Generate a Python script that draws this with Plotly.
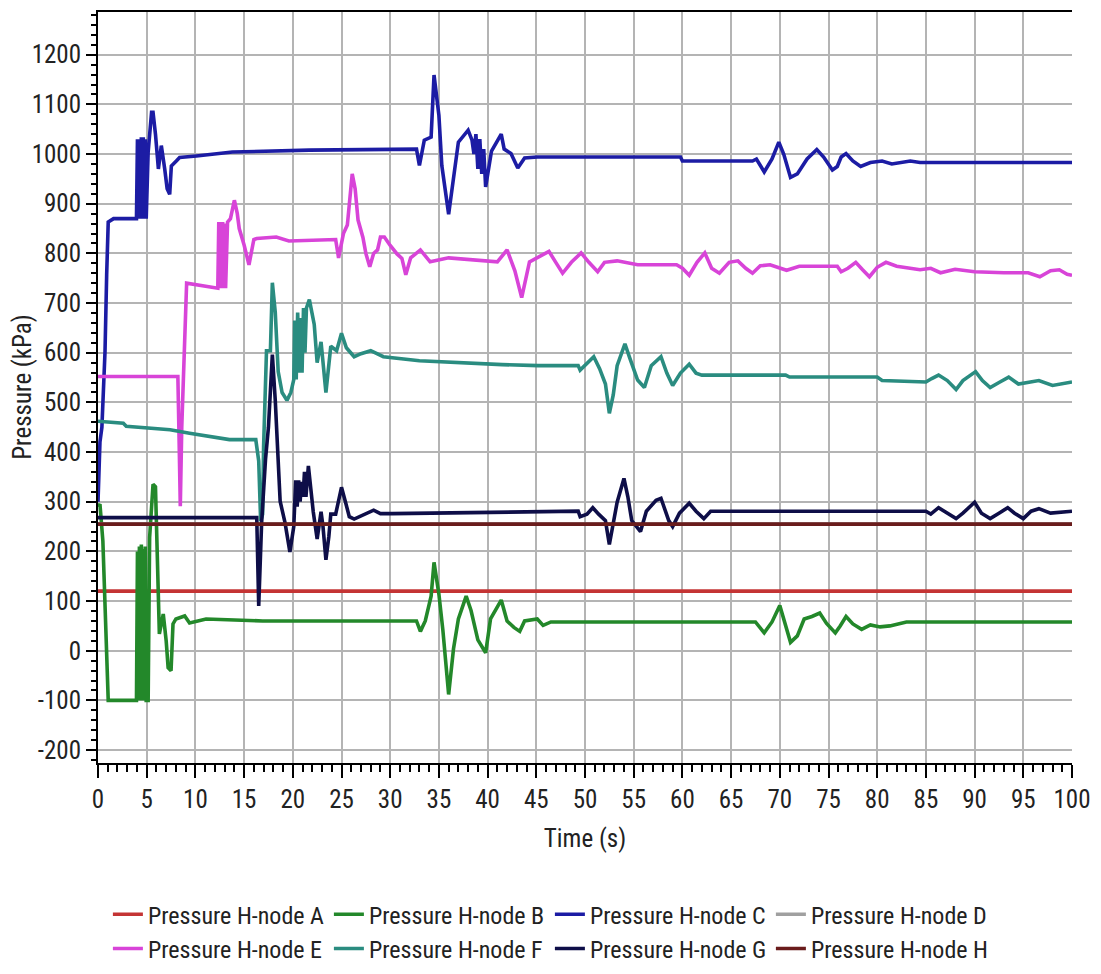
import plotly.graph_objects as go

# ---- data (time s, pressure kPa) ----
SERIES_NAMES = ["Pressure H-node A", "Pressure H-node B", "Pressure H-node C", "Pressure H-node D",
                "Pressure H-node E", "Pressure H-node F", "Pressure H-node G", "Pressure H-node H"]

A_PTS = [(0, 120), (100, 120)]
D_PTS = [(0, 255), (100, 255)]
H_PTS = [(0, 255), (100, 255)]

B_PTS = [(0, 290), (0.2, 295), (0.5, 221), (0.7, 100), (0.9, -60), (1.05, -100), (3.95, -100),
         (4.05, 200), (4.15, -100), (4.25, 210), (4.35, -100), (4.45, 214), (4.55, -100), (4.65, 205),
         (4.75, -100), (4.85, 210), (4.95, -100), (5.15, -100), (5.3, 228), (5.5, 300), (5.65, 335),
         (5.9, 330), (6.2, 140), (6.3, 34), (6.7, 74), (7.0, 20), (7.2, -34), (7.5, -40), (7.7, 54),
         (8.0, 64), (8.9, 70), (9.4, 56), (11.1, 64), (16.9, 60), (32.7, 60), (33.1, 39), (33.6, 60),
         (34.2, 110), (34.5, 178), (35.0, 114), (35.4, 43), (36.0, -88), (36.5, 4), (37.0, 64),
         (37.8, 110), (38.3, 81), (39.0, 22), (39.8, -4), (40.3, 64), (41.4, 102), (42.0, 60),
         (42.7, 47), (43.3, 39), (43.8, 60), (45.1, 64), (45.7, 51), (46.5, 58), (67.5, 58),
         (68.4, 36), (69.2, 58), (70.0, 91), (70.5, 60), (71.1, 17), (71.8, 30), (72.5, 64),
         (73.3, 69), (74.1, 76), (74.8, 55), (75.7, 36), (76.2, 50), (76.8, 69), (77.5, 54),
         (78.4, 43), (79.3, 52), (80.3, 48), (81.3, 50), (83.0, 58), (100, 58)]

C_PTS = [(0, 300), (0.2, 420), (0.4, 450), (0.6, 550), (0.72, 602), (0.89, 757), (1.05, 863),
         (1.6, 870), (3.95, 870), (4.05, 1030), (4.15, 870), (4.25, 1030), (4.35, 870), (4.45, 1034),
         (4.55, 870), (4.65, 1034), (4.75, 870), (4.85, 1030), (4.95, 870), (5.15, 1004), (5.3, 1044),
         (5.5, 1084), (5.65, 1084), (5.9, 1040), (6.2, 970), (6.5, 1017), (6.85, 970), (7.1, 930),
         (7.36, 919), (7.53, 976), (8.04, 986), (8.38, 993), (10.1, 996), (13.8, 1004), (21.7, 1008),
         (32.7, 1010), (33.0, 977), (33.5, 1028), (34.2, 1034), (34.5, 1159), (35.0, 1078),
         (35.3, 977), (36.0, 879), (36.5, 951), (37.0, 1024), (38.0, 1048), (38.4, 1028),
         (38.6, 1000), (38.8, 1040), (39.0, 970), (39.2, 1030), (39.4, 960), (39.6, 1010),
         (39.8, 934), (40.4, 1006), (41.4, 1040), (41.7, 1010), (42.4, 1001), (43.1, 972),
         (43.8, 992), (45.1, 994), (59.8, 994), (60.0, 986), (67.2, 986), (67.6, 990), (68.4, 964),
         (69.2, 990), (69.9, 1024), (70.4, 1000), (71.1, 953), (71.8, 960), (72.8, 990), (73.8, 1009),
         (74.5, 994), (75.4, 968), (75.9, 975), (76.3, 994), (76.8, 1001), (77.5, 986), (78.3, 975),
         (79.3, 983), (80.5, 986), (81.5, 980), (83.4, 986), (84.4, 983), (100, 983)]

E_PTS = [(0, 552), (8.2, 552), (8.35, 400), (8.45, 291), (8.6, 450), (8.8, 582), (9.1, 740),
         (12.3, 730), (12.4, 863), (12.5, 730), (12.6, 863), (12.7, 730), (12.8, 863), (12.9, 730),
         (13.0, 860), (13.1, 730), (13.3, 863), (13.6, 870), (14.0, 907), (14.3, 880), (14.5, 850),
         (15.0, 817), (15.5, 777), (16.0, 828), (16.3, 830), (18.3, 833), (19.6, 825), (24.4, 828),
         (24.7, 791), (25.2, 840), (25.6, 857), (26.1, 960), (26.4, 930), (26.7, 867), (27.2, 832),
         (27.5, 800), (27.9, 773), (28.3, 800), (28.7, 807), (29.0, 833), (29.4, 833), (30.0, 816),
         (30.7, 799), (31.2, 790), (31.6, 757), (32.1, 791), (33.1, 807), (34.1, 783), (36.0, 791),
         (41.0, 783), (42.0, 807), (42.8, 765), (43.5, 711), (44.3, 783), (45.0, 790), (46.3, 804),
         (47.0, 782), (47.7, 760), (48.6, 782), (49.6, 801), (50.4, 782), (51.3, 763), (52.0, 782),
         (53.3, 785), (55.4, 777), (59.4, 777), (60.0, 770), (60.7, 756), (61.5, 782), (62.3, 801),
         (63.0, 770), (63.8, 760), (64.8, 782), (65.7, 785), (66.5, 770), (67.2, 760), (68.0, 775),
         (69.0, 777), (70.7, 766), (72.0, 774), (75.9, 774), (76.3, 763), (77.0, 770), (77.8, 782),
         (78.5, 767), (79.2, 753), (80.0, 772), (80.9, 782), (82.0, 774), (84.4, 767), (85.5, 770),
         (86.5, 761), (88.0, 768), (90.0, 763), (93.0, 761), (95.5, 761), (96.7, 753), (97.8, 765),
         (98.7, 767), (99.5, 758), (100, 756)]

F_PTS = [(0, 462), (2.6, 458), (2.9, 452), (5.3, 448), (7.4, 445), (9.4, 438), (11.5, 432),
         (13.5, 425), (16.2, 425), (16.5, 382), (16.7, 261), (16.9, 275), (17.0, 410), (17.3, 604),
         (17.7, 604), (17.9, 741), (18.2, 681), (18.5, 562), (18.9, 520), (19.4, 504), (19.8, 520),
         (20.1, 546), (20.2, 665), (20.35, 546), (20.5, 681), (20.65, 560), (20.8, 670), (20.95, 560),
         (21.1, 690), (21.25, 600), (21.4, 690), (21.7, 707), (22.2, 657), (22.5, 580), (22.9, 622),
         (23.4, 520), (23.9, 613), (24.5, 604), (25.0, 639), (25.5, 610), (26.3, 592), (27.0, 598),
         (28.0, 604), (29.3, 592), (33.0, 584), (37.1, 580), (41.5, 576), (45.2, 574), (49.3, 574),
         (49.5, 565), (50.9, 592), (51.5, 568), (52.1, 537), (52.5, 478), (52.9, 515), (53.3, 574),
         (54.1, 618), (54.6, 589), (55.4, 545), (56.1, 530), (56.8, 574), (57.8, 592), (58.4, 559),
         (59.0, 534), (59.8, 559), (60.7, 577), (61.4, 559), (62.0, 555), (70.6, 555), (71.0, 551),
         (80.0, 551), (80.5, 544), (85.0, 541), (85.6, 548), (86.3, 555), (87.2, 544), (88.1, 526),
         (88.8, 544), (90.1, 562), (90.8, 544), (91.6, 530), (92.6, 541), (93.5, 551), (94.5, 537),
         (95.5, 541), (96.6, 544), (98.0, 534), (100, 541)]

G_PTS = [(0, 268), (16.3, 268), (16.5, 90), (16.8, 258), (17.2, 386), (17.5, 450), (17.9, 596),
         (18.2, 504), (18.7, 301), (19.2, 258), (19.7, 199), (20.1, 250), (20.3, 343), (20.45, 290),
         (20.6, 343), (20.75, 300), (20.9, 340), (21.05, 310), (21.2, 360), (21.35, 310), (21.6, 372),
         (21.9, 317), (22.1, 280), (22.5, 225), (22.9, 280), (23.1, 250), (23.4, 183), (23.7, 230),
         (23.9, 275), (24.4, 275), (25.0, 329), (25.4, 300), (25.8, 270), (26.3, 265), (27.0, 272),
         (28.3, 283), (29.0, 276), (30.2, 276), (49.3, 281), (49.5, 270), (50.2, 275), (50.8, 288),
         (51.4, 275), (52.1, 262), (52.5, 214), (52.9, 255), (53.3, 299), (54.0, 347), (54.4, 310),
         (54.8, 262), (55.7, 240), (56.3, 281), (57.3, 303), (57.8, 307), (58.3, 277), (58.6, 262),
         (59.0, 250), (59.7, 277), (60.7, 297), (61.4, 281), (62.2, 266), (62.9, 281), (85.0, 281),
         (85.5, 275), (86.3, 288), (87.2, 277), (88.1, 266), (88.8, 277), (90.0, 299), (90.7, 277),
         (91.6, 266), (92.5, 277), (93.4, 288), (94.1, 277), (95.0, 266), (95.8, 281), (96.6, 286),
         (97.8, 277), (100, 281)]

X_TICKS = list(range(0, 101, 5))
Y_TICKS = list(range(-200, 1201, 100))
Y_TICK_TEXT = [str(v) for v in Y_TICKS]  # plain hyphen minus as in the original

# ---- styling ----
COLORS = ["#c43434", "#23882a", "#1c1ca4", "#a0a0a0", "#d844d8", "#2a8c80", "#0e0e48", "#6a1c1c"]
FONT = "Liberation Sans Narrow, Arial Narrow, Roboto Condensed, Liberation Sans, Arial, sans-serif"

fig = go.Figure()
for name, pts, col in zip(SERIES_NAMES, [A_PTS, B_PTS, C_PTS, D_PTS, E_PTS, F_PTS, G_PTS, H_PTS], COLORS):
    xs = [p[0] for p in pts]
    ys = [p[1] for p in pts]
    fig.add_trace(go.Scatter(x=xs, y=ys, mode="lines", name=name,
                             line=dict(color=col, width=3.6, shape="linear")))

axis_common = dict(showgrid=True, gridcolor="#b4b4b4", gridwidth=1.5, zeroline=False,
                   showline=True, linecolor="black", linewidth=2,
                   tickfont=dict(family=FONT, size=25, color="#222"))

fig.update_layout(
    width=1101, height=974,
    margin=dict(l=98, r=25, t=10, b=211),
    paper_bgcolor="white", plot_bgcolor="white",
    font=dict(family=FONT, size=25, color="#222"),
    xaxis=dict(range=[0, 100], tickvals=X_TICKS, ticks="outside", ticklen=13, tickwidth=2,
               tickcolor="black", mirror=True,
               minor=dict(dtick=1, ticks="outside", ticklen=7, tickwidth=1.5, tickcolor="black", showgrid=False),
               title=dict(text="Time (s)", standoff=16, font=dict(family=FONT, size=25, color="#222")),
               **axis_common),
    yaxis=dict(range=[-226, 1286], tickvals=Y_TICKS, ticktext=Y_TICK_TEXT, ticks="outside", ticklen=10,
               tickwidth=2, tickcolor="black",
               minor=dict(dtick=20, ticks="outside", ticklen=5, tickwidth=1.5, tickcolor="black", showgrid=False),
               **axis_common),
    legend=dict(orientation="h", xref="container", yref="container", x=0.098, y=0.084,
                xanchor="left", yanchor="top", entrywidth=176, entrywidthmode="pixels",
                font=dict(family=FONT, size=24, color="#222"), traceorder="normal",
                bgcolor="rgba(0,0,0,0)", tracegroupgap=0, itemwidth=30),
    showlegend=True,
    annotations=[dict(text="Pressure (kPa)", xref="paper", yref="paper", x=-0.0777, y=0.5,
                      xanchor="center", yanchor="middle", textangle=-90, showarrow=False,
                      font=dict(family=FONT, size=25, color="#222"))],
)

fig.write_html("out.html")
